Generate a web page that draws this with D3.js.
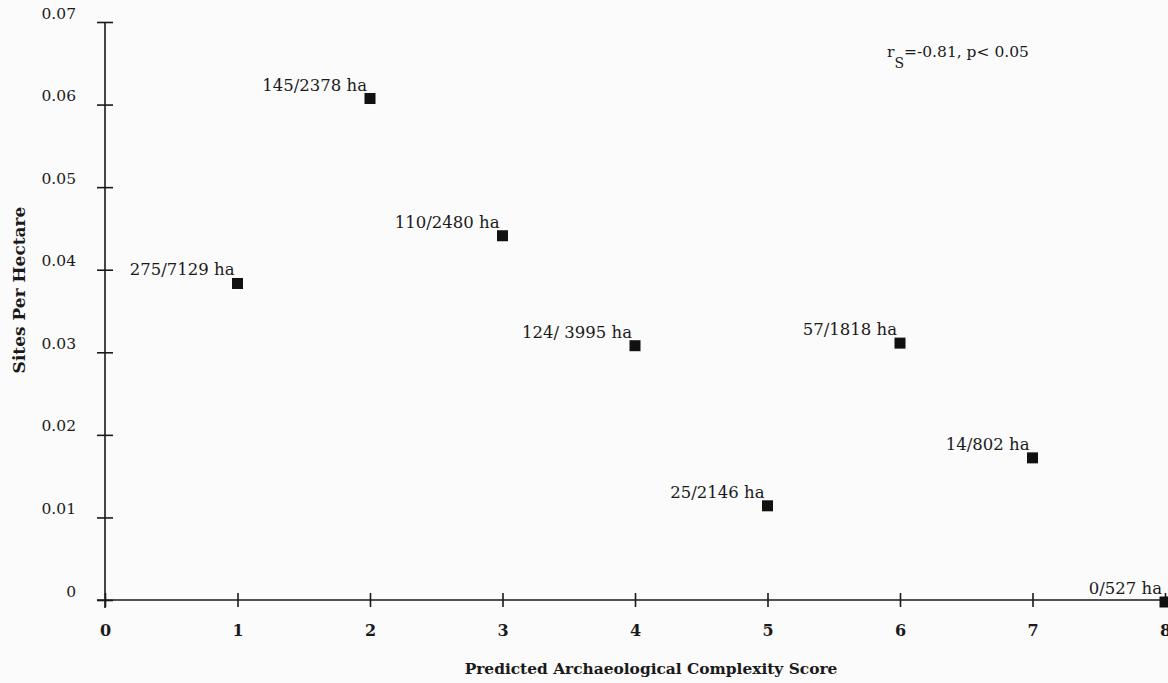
<!DOCTYPE html>
<html>
<head>
<meta charset="utf-8">
<script src="https://cdn.jsdelivr.net/npm/d3@7"></script>
<style>
  html, body { margin: 0; padding: 0; background: #fbfbfb; }
  svg { display: block; }
  text { font-family: "DejaVu Serif", "Liberation Serif", serif; fill: #1a1a1a; }
</style>
</head>
<body>
<svg id="chart" width="1168" height="683"></svg>
<script>
// Survey blocks: complexity score, sites recorded and surveyed area
const scores   = [1, 2, 3, 4, 5, 6, 7, 8];
const sites    = [275, 145, 110, 124, 25, 57, 14, 0];
const hectares = [7129, 2378, 2480, 3995, 2146, 1818, 802, 527];
const labels   = ["275/7129 ha", "145/2378 ha", "110/2480 ha", "124/ 3995 ha",
                  "25/2146 ha", "57/1818 ha", "14/802 ha", "0/527 ha"];

const xTicks = [0, 1, 2, 3, 4, 5, 6, 7, 8];
const yTicks = [0, 0.01, 0.02, 0.03, 0.04, 0.05, 0.06, 0.07];
const yTickLabels = ["0", "0.01", "0.02", "0.03", "0.04", "0.05", "0.06", "0.07"];

const xTitle = "Predicted Archaeological Complexity Score";
const yTitle = "Sites Per Hectare";

const points = scores.map((s, i) => ({
  x: s,
  y: sites[i] / hectares[i],
  label: labels[i]
}));

const svg = d3.select("#chart");
const x = d3.scaleLinear().domain([0, 8]).range([105, 1165]);
const y = d3.scaleLinear().domain([0, 0.07]).range([600, 22]);

const ink = "#1a1a1a";

// X axis: line runs off the right edge, ticks cross the line
const xAxis = svg.append("g")
  .attr("transform", `translate(0,${y(0)})`)
  .call(d3.axisBottom(x).tickValues(xTicks).tickSize(0).tickSizeOuter(0).tickPadding(0));
xAxis.select(".domain").remove();
xAxis.append("line")
  .attr("x1", x(0) - 8).attr("x2", 1168)
  .attr("stroke", ink).attr("stroke-width", 1.6);
xAxis.selectAll(".tick line")
  .attr("y1", -7).attr("y2", 7)
  .attr("stroke", ink).attr("stroke-width", 1.6);
xAxis.selectAll(".tick text")
  .attr("y", 36).attr("dy", 0)
  .attr("font-size", 16).attr("font-weight", "bold")
  .style("font-family", '"DejaVu Serif", serif')
  .attr("fill", ink);

// Y axis
const yAxis = svg.append("g")
  .attr("transform", `translate(${x(0)},0)`)
  .call(d3.axisLeft(y).tickValues(yTicks)
    .tickFormat((d, i) => yTickLabels[i])
    .tickSize(0).tickSizeOuter(0).tickPadding(0));
yAxis.select(".domain").remove();
yAxis.append("line")
  .attr("y1", y(0.07)).attr("y2", y(0) + 8)
  .attr("stroke", ink).attr("stroke-width", 1.6);
yAxis.selectAll(".tick line")
  .attr("x1", -8).attr("x2", 8)
  .attr("stroke", ink).attr("stroke-width", 1.6);
yAxis.selectAll(".tick text")
  .attr("x", -29).attr("dy", "-0.25em")
  .attr("font-size", 15.5)
  .style("font-family", '"DejaVu Serif", serif')
  .attr("fill", ink);

// Points
const size = 11;
svg.append("g").selectAll("rect")
  .data(points)
  .join("rect")
  .attr("x", d => x(d.x) - size / 2)
  .attr("y", d => y(d.y) - size / 2 + 2)
  .attr("width", size)
  .attr("height", size)
  .attr("fill", "#111");

// Point labels
svg.append("g").selectAll("text")
  .data(points)
  .join("text")
  .attr("x", d => x(d.x) - 3)
  .attr("y", d => y(d.y) - 6)
  .attr("text-anchor", "end")
  .attr("font-size", 16.5)
  .text(d => d.label);

// Axis titles
svg.append("text")
  .attr("x", 651)
  .attr("y", 674)
  .attr("text-anchor", "middle")
  .attr("font-size", 15.4)
  .attr("font-weight", "bold")
  .text(xTitle);

svg.append("text")
  .attr("transform", "translate(25,290) rotate(-90)")
  .attr("text-anchor", "middle")
  .attr("font-size", 17)
  .attr("font-weight", "bold")
  .text(yTitle);

// Rank correlation note
const note = svg.append("text")
  .attr("x", 887)
  .attr("y", 57)
  .attr("font-size", 15.5);
note.append("tspan").text("r");
note.append("tspan").attr("font-size", 14).attr("dy", 11).text("S");
note.append("tspan").attr("dy", -11).text("=-0.81, p< 0.05");
</script>
</body>
</html>
